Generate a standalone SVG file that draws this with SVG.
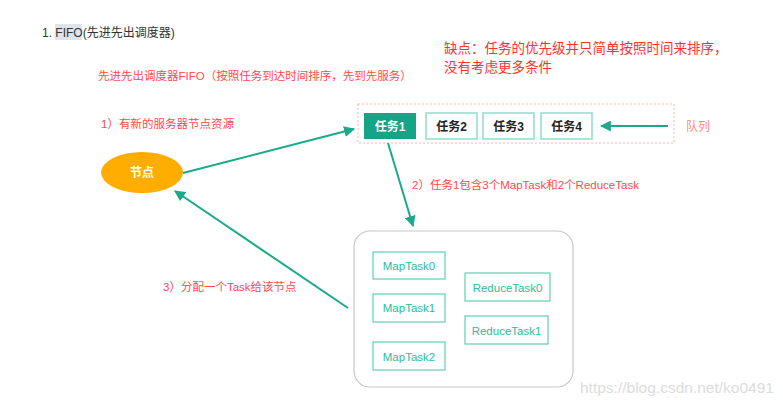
<svg xmlns="http://www.w3.org/2000/svg" width="783" height="409" viewBox="0 0 783 409">
<defs>
<style>
.t{font-family:"Liberation Sans","Noto Sans CJK SC",sans-serif}
.red{fill:#ff4a4a;font-size:11.5px}
.task{fill:#fff;stroke:#90dccb;stroke-width:1.5}
.tt{font-size:12px;font-weight:bold;fill:#222;text-anchor:middle}
.sub{fill:#fff;stroke:#5fcfb3;stroke-width:1.2}
.st{font-size:11.5px;fill:#2bbd98;text-anchor:middle}
.conn{stroke:#1aaa8a;stroke-width:2;fill:none;marker-end:url(#ah)}
</style>
<marker id="ah" viewBox="0 0 10 10" refX="9" refY="5" markerWidth="5.5" markerHeight="5.5" orient="auto-start-reverse" markerUnits="strokeWidth">
<path d="M0,0 L10,5 L0,10 z" fill="#1aaa8a"/>
</marker>
</defs>
<rect width="783" height="409" fill="#fff"/>
<g id="title">
<rect x="55" y="24" width="27" height="16" fill="#dde4ea"/>
<text class="t" x="42" y="37" font-size="12" fill="#333">1. FIFO(先进先出调度器)</text>
</g>
<g id="labels">
<text class="t red" x="98" y="80">先进先出调度器FIFO（按照任务到达时间排序，先到先服务）</text>
<text class="t" x="444" y="53" font-size="13.5" fill="#ff3030">缺点：任务的优先级并只简单按照时间来排序，</text>
<text class="t" x="444" y="72" font-size="13.5" fill="#ff3030">没有考虑更多条件</text>
<text class="t red" x="101" y="128">1）有新的服务器节点资源</text>
<text class="t red" x="412" y="189">2）任务1包含3个MapTask和2个ReduceTask</text>
<text class="t red" x="163" y="291">3）分配一个Task给该节点</text>
<text class="t" x="686" y="131" font-size="12" fill="#ff8a7a">队列</text>
</g>
<g id="queue">
<rect x="358" y="104" width="316" height="39" fill="none" stroke="#ffb3b3" stroke-width="1" stroke-dasharray="2,2"/>
</g>
<g id="task1">
<rect x="364" y="113" width="52" height="26" fill="#14a486"/>
<text class="t tt" x="390" y="131" style="fill:#fff">任务1</text>
</g>
<g id="task2">
<rect class="task" x="426" y="113" width="51" height="26"/>
<text class="t tt" x="451.5" y="131">任务2</text>
</g>
<g id="task3">
<rect class="task" x="483" y="113" width="51" height="26"/>
<text class="t tt" x="508.5" y="131">任务3</text>
</g>
<g id="task4">
<rect class="task" x="541" y="113" width="51" height="26"/>
<text class="t tt" x="566.5" y="131">任务4</text>
</g>
<g id="node">
<ellipse cx="142" cy="172.5" rx="41" ry="20.5" fill="#ffad00"/>
<text class="t" x="142" y="177" font-size="12" font-weight="bold" fill="#fff" text-anchor="middle">节点</text>
</g>
<g id="job">
<rect x="354" y="231" width="219" height="156" rx="16" ry="16" fill="#fff" stroke="#c8c8c8" stroke-width="1.2"/>
</g>
<g id="map0"><rect class="sub" x="373" y="252" width="72" height="27"/><text class="t st" x="409" y="270">MapTask0</text></g>
<g id="map1"><rect class="sub" x="373" y="294" width="72" height="28"/><text class="t st" x="409" y="312">MapTask1</text></g>
<g id="map2"><rect class="sub" x="373" y="342" width="72" height="28"/><text class="t st" x="409" y="361">MapTask2</text></g>
<g id="reduce0"><rect class="sub" x="465" y="273" width="85" height="28"/><text class="t st" x="507.5" y="292">ReduceTask0</text></g>
<g id="reduce1"><rect class="sub" x="465" y="316" width="83" height="28"/><text class="t st" x="506.5" y="335">ReduceTask1</text></g>
<g id="connectors">
<line class="conn" x1="668" y1="126" x2="601" y2="126"/>
<line class="conn" x1="183" y1="173" x2="354" y2="129"/>
<line class="conn" x1="388" y1="143" x2="413" y2="226"/>
<line class="conn" x1="348" y1="308" x2="175" y2="191"/>
</g>
<text class="t" x="580" y="393" font-size="15.5" fill="#dcdcdc">https://blog.csdn.net/ko0491</text>
</svg>
